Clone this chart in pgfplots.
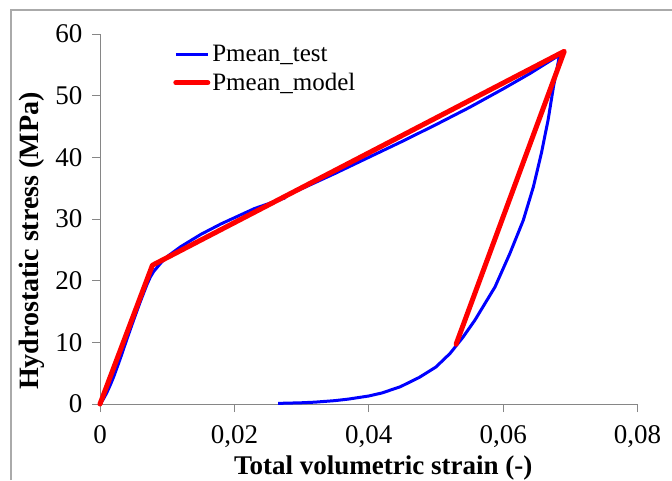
\documentclass[border=0pt]{standalone}
\usepackage{fontspec}
\setmainfont{Liberation Serif}
\usepackage{pgfplots}
\pgfplotsset{compat=1.18}
\definecolor{axisgray}{RGB}{134,134,134}
\definecolor{framegray}{RGB}{170,170,170}
\begin{document}
\begin{tikzpicture}[x=1pt,y=1pt]
\useasboundingbox (0,0) rectangle (672,480);
\draw[framegray, line width=1.2pt] (11,0) -- (11,470) -- (672,470);
\begin{axis}[
    at={(100pt,76pt)}, anchor=south west,
    scale only axis,
    width=537.5pt, height=370pt,
    xmin=0, xmax=0.08, ymin=0, ymax=60,
    axis x line*=bottom, axis y line*=left,
    axis line style={axisgray, line width=1pt, -},
    tick style={axisgray, line width=1pt},
    tick align=outside,
    major tick length=8pt,
    scaled x ticks=false,
    xtick={0,0.02,0.04,0.06,0.08},
    xticklabels={0,{0,02},{0,04},{0,06},{0,08}},
    ytick={0,10,...,60},
    /pgf/number format/assume math mode=true,
    tick label style={font=\fontsize{27}{27}\selectfont},
    xticklabel style={yshift=-10pt},
    yticklabel style={xshift=-6pt},
    xlabel={\textbf{Total volumetric strain (-)}},
    ylabel={\textbf{Hydrostatic stress (MPa)}},
    xlabel style={font=\fontsize{27}{27}\selectfont, at={(axis description cs:0.527,-0.172)}, anchor=center},
    ylabel style={font=\fontsize{28}{28}\selectfont, at={(axis description cs:-0.1265,0.44)}, anchor=center},
    legend style={at={(axis description cs:0.136,0.975)}, anchor=north west,
        draw=none, fill=none, font=\fontsize{25}{25}\selectfont,
        row sep=6pt, inner sep=0pt,
        /tikz/every even column/.append style={column sep=4pt}},
    legend cell align=left,
    legend image code/.code={\draw[#1] (0pt,0pt) -- (32pt,0pt);},
    clip=false,
]
\addplot[blue, line width=3pt, line join=round] coordinates {
(0,0) (0.0005,0.8) (0.001,1.8) (0.0015,3.0) (0.002,4.3) (0.0025,5.8)
(0.003,7.3) (0.0035,8.9) (0.004,10.5) (0.005,13.6) (0.006,16.6)
(0.007,19.4) (0.0075,20.6) (0.008,21.5) (0.009,22.8) (0.010,23.9) (0.012,25.5)
(0.015,27.5) (0.018,29.2) (0.020,30.2) (0.023,31.7) (0.0275,33.4)
(0.0276,33.8) (0.030,34.9) (0.035,37.4) (0.040,40.0) (0.045,42.6)
(0.050,45.3) (0.055,48.1) (0.060,51.1) (0.064,53.6) (0.0684,56.6)
(0.0680,54.3) (0.0675,51.5) (0.0667,46.1) (0.0657,40.7) (0.0645,35.2)
(0.0630,29.8) (0.0610,24.4) (0.0588,19.0) (0.0558,13.6) (0.0540,10.8)
(0.0521,8.2) (0.0500,6.0) (0.0475,4.3) (0.0447,2.8) (0.0420,1.8)
(0.040,1.3) (0.037,0.8) (0.035,0.55) (0.032,0.3) (0.030,0.2) (0.0265,0.1)
};
\addlegendentry{Pmean\_test}
\addplot[red, line width=5pt, line join=round, line cap=round] coordinates {
(0,0) (0.0078,22.5) (0.0691,57.2) (0.0530,9.7)
};
\addlegendentry{Pmean\_model}
\end{axis}
\end{tikzpicture}
\end{document}
